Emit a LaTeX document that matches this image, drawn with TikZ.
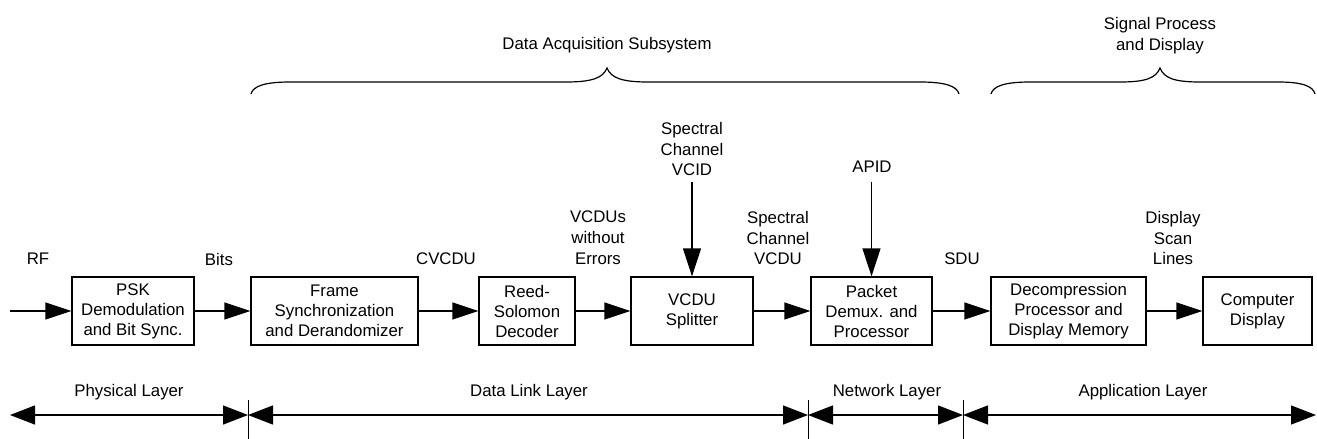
\documentclass[tikz,border=0pt]{standalone}
\usepackage{fontspec}
\setmainfont{Liberation Sans}
\usetikzlibrary{arrows.meta}
\begin{document}
\begin{tikzpicture}[x=1pt,y=-1pt,
  txt/.style={font=\fontsize{16.8}{20.8}\selectfont, align=center, inner sep=0pt},
  blk/.style={draw, line width=1.3pt, minimum height=68pt, align=center, inner sep=0pt, font=\fontsize{16.8}{20}\selectfont},
  flow/.style={line width=1.3pt, -{Triangle[length=26pt,width=17pt]}},
  drop/.style={line width=1.3pt, -{Triangle[length=28pt,width=18pt]}},
  layer/.style={line width=1.3pt, {Triangle[length=25pt,width=19pt]}-{Triangle[length=25pt,width=19pt]}},
  divider/.style={line width=1pt},
  brace/.style={line width=1.2pt}
]
\useasboundingbox (0,0) rectangle (1317,439);

% blocks
\node[blk, minimum width=122pt] (psk) at (133,311) {PSK\\Demodulation\\and Bit Sync.};
\node[blk, minimum width=167pt] (frame) at (334.5,311) {Frame\\Synchronization\\and Derandomizer};
\node[blk, minimum width=96pt] (rs) at (527,311) {Reed-\\Solomon\\Decoder};
\node[blk, minimum width=122pt] (vcdu) at (692,311) {VCDU\\Splitter};
\node[blk, minimum width=121pt] (pkt) at (871.5,311) {Packet\\Demux. and\\Processor};
\node[blk, minimum width=155pt] (dec) at (1068.5,311) {Decompression\\Processor and\\Display Memory};
\node[blk, minimum width=109pt] (disp) at (1257.5,311) {Computer\\Display};

% inputs
\coordinate (rfin) at (10,311);
\coordinate (vcidin) at (692,182);
\coordinate (apidin) at (871.5,182);

% flow arrows
\draw[flow] (rfin) -- (psk.west);
\draw[flow] (psk.east) -- (frame.west);
\draw[flow] (frame.east) -- (rs.west);
\draw[flow] (rs.east) -- (vcdu.west);
\draw[flow] (vcdu.east) -- (pkt.west);
\draw[flow] (pkt.east) -- (dec.west);
\draw[flow] (dec.east) -- (disp.west);
\draw[drop] (vcidin) -- (vcdu.north);
\draw[drop] (apidin) -- (pkt.north);

% flow labels
\node[txt] (lrf) at (38,259) {RF};
\node[txt] (lbits) at (219,259) {Bits};
\node[txt] (lcvcdu) at (446,259) {CVCDU};
\node[txt] (lvcdus) at (598,238) {VCDUs\\without\\Errors};
\node[txt] (lvcid) at (692,149) {Spectral\\Channel\\VCID};
\node[txt] (lscv) at (778,238) {Spectral\\Channel\\VCDU};
\node[txt] (lapid) at (872,167) {APID};
\node[txt] (lsdu) at (962,259) {SDU};
\node[txt] (ldsl) at (1173,238) {Display\\Scan\\Lines};

% subsystem braces
\node[txt] (ldas) at (607,45) {Data Acquisition Subsystem};
\node[txt] (lspd) at (1160,36) {Signal Process\\and Display};
\draw[brace] (251,94) .. controls (253,86) and (265,82) .. (290,82) -- (566,82)
  .. controls (592,82) and (603,78) .. (607,68)
  .. controls (611,78) and (622,82) .. (648,82) -- (920,82)
  .. controls (945,82) and (957,86) .. (959,94);
\draw[brace] (991,94) .. controls (993,86) and (1005,82) .. (1030,82) -- (1120,82)
  .. controls (1146,82) and (1156,78) .. (1160,68)
  .. controls (1164,78) and (1174,82) .. (1200,82) -- (1278,82)
  .. controls (1302,82) and (1313,86) .. (1315,94);

% layers
\coordinate (l0) at (10,415);
\coordinate (l1) at (248,415);
\coordinate (l2) at (808,415);
\coordinate (l3) at (963,415);
\coordinate (l4) at (1316,415);
\coordinate (d1t) at (248,400); \coordinate (d1b) at (248,439);
\coordinate (d2t) at (808,400); \coordinate (d2b) at (808,439);
\coordinate (d3t) at (963,400); \coordinate (d3b) at (963,439);
\draw[divider] (d1t) -- (d1b);
\draw[divider] (d2t) -- (d2b);
\draw[divider] (d3t) -- (d3b);
\draw[layer] (l0) -- (l1);
\draw[layer] (l1) -- (l2);
\draw[layer] (l2) -- (l3);
\draw[layer] (l3) -- (l4);
\node[txt] (lphy) at (129,392) {Physical Layer};
\node[txt] (ldl) at (529,392) {Data Link Layer};
\node[txt] (lnet) at (887,392) {Network Layer};
\node[txt] (lapp) at (1143,392) {Application Layer};
\end{tikzpicture}
\end{document}
